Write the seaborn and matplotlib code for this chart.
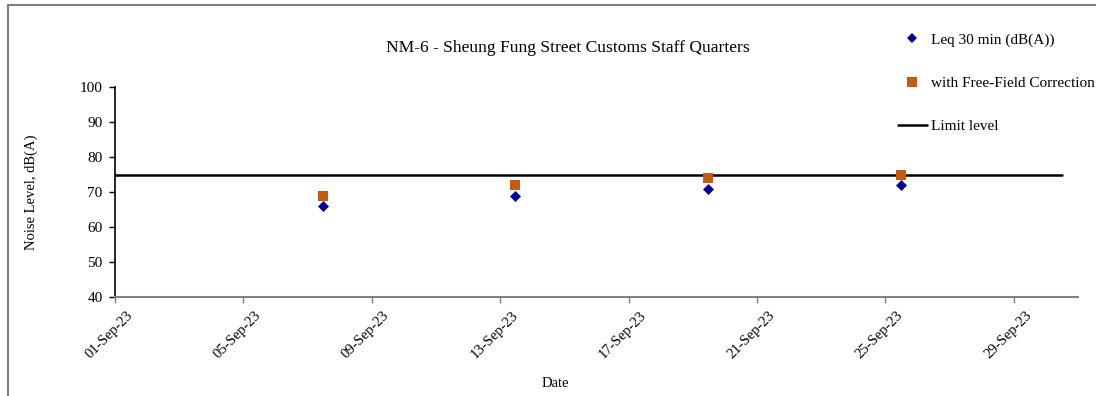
import matplotlib
matplotlib.use("Agg")
import matplotlib.pyplot as plt
import matplotlib.dates as mdates
import matplotlib.transforms as mtransforms
from matplotlib.lines import Line2D
from matplotlib.patches import Rectangle
import pandas as pd
import seaborn as sns

# Measurement data
dates = ["2023-09-07 11:20", "2023-09-13 11:20", "2023-09-19 11:40", "2023-09-25 11:40"]
leq_30min = [66, 69, 71, 72]
free_field = [69, 72, 74, 75]
limit_dates = ["2023-09-01 00:00", "2023-09-30 12:00"]
limit_values = [75, 75]
x_tick_dates = ["2023-09-01", "2023-09-05", "2023-09-09", "2023-09-13",
                "2023-09-17", "2023-09-21", "2023-09-25", "2023-09-29"]
y_ticks = [40, 50, 60, 70, 80, 90, 100]

title = "NM-6 - Sheung Fung Street Customs Staff Quarters"
label_leq = "Leq 30 min (dB(A))"
label_ff = "with Free-Field Correction"
label_limit = "Limit level"

sns.set_theme(style="white")
plt.rcParams["font.family"] = ["Liberation Serif", "DejaVu Serif"]
plt.rcParams["text.color"] = "black"
plt.rcParams["axes.labelcolor"] = "black"

df = pd.DataFrame({"date": pd.to_datetime(dates), "leq": leq_30min, "ff": free_field})
lim = pd.DataFrame({"date": pd.to_datetime(limit_dates), "limit": limit_values})

W, H = 1096, 396
fig = plt.figure(figsize=(W / 100, H / 100), dpi=100)
ax = fig.add_axes([115 / W, 1 - 297 / H, (1078 - 115) / W, (297 - 87) / H])

c_leq = "#000099"
c_ff = "#C55A11"

sns.lineplot(data=lim, x="date", y="limit", ax=ax, color="black", linewidth=1.8, legend=False)
sns.scatterplot(data=df, x="date", y="ff", ax=ax, marker="s", s=7.8 ** 2, color=c_ff,
                linewidth=0, legend=False, zorder=3)
sns.scatterplot(data=df, x="date", y="leq", ax=ax, marker="D", s=5.6 ** 2, color=c_leq,
                linewidth=0, legend=False, zorder=4)

ax.set_xlim(pd.Timestamp("2023-09-01"), pd.Timestamp("2023-10-01"))
ax.set_ylim(40, 100)
ax.set_yticks(y_ticks)
ax.set_xticks(pd.to_datetime(x_tick_dates))
ax.xaxis.set_major_formatter(mdates.DateFormatter("%d-%b-%y"))

for s in ["top", "right"]:
    ax.spines[s].set_visible(False)
ax.spines["left"].set_color("black")
ax.spines["left"].set_linewidth(1.2)
ax.spines["bottom"].set_color("#808080")
ax.spines["bottom"].set_linewidth(1.5)

ax.tick_params(axis="y", direction="out", length=4, width=1, color="black",
               labelsize=11, labelcolor="black", pad=5, left=True)
ax.tick_params(axis="x", direction="out", length=4, width=1, color="#808080",
               labelsize=10.5, labelcolor="black", pad=2, bottom=True)
shift = mtransforms.ScaledTranslation(11 / 100, -3 / 100, fig.dpi_scale_trans)
for lab in ax.get_xticklabels():
    lab.set_rotation(45)
    lab.set_ha("right")
    lab.set_va("top")
    lab.set_rotation_mode("anchor")
    lab.set_transform(lab.get_transform() + shift)

ax.set_xlabel("Date", fontsize=10.5)
ax.set_ylabel("Noise Level, dB(A)", fontsize=10.5)
ax.xaxis.set_label_coords((555 - 115) / (1078 - 115), -(377 - 297) / (297 - 87))
ax.yaxis.set_label_coords(-(115 - 38) / (1078 - 115), 0.5)

fig.text(568 / W, 1 - 48 / H, title, ha="center", va="center", fontsize=12.6)

handles = [
    Line2D([], [], linestyle="none", marker="D", markersize=5.6, color=c_leq, markeredgewidth=0),
    Line2D([], [], linestyle="none", marker="s", markersize=7.8, color=c_ff, markeredgewidth=0),
    Line2D([], [], color="black", linewidth=1.8),
]
fig.legend(handles, [label_leq, label_ff, label_limit], loc="upper left",
           bbox_to_anchor=(890 / W, 1 - 25 / H), frameon=False, fontsize=11,
           labelspacing=1.95, handlelength=1.9, handletextpad=0.3, borderpad=0)

# outer chart-area frame
fig.patches.append(Rectangle((8 / W, -0.1), 1.2, 1 - 5 / H + 0.1, transform=fig.transFigure,
                             fill=False, edgecolor="#7f7f7f", linewidth=1.5))

fig.savefig("out.png", dpi=100)
